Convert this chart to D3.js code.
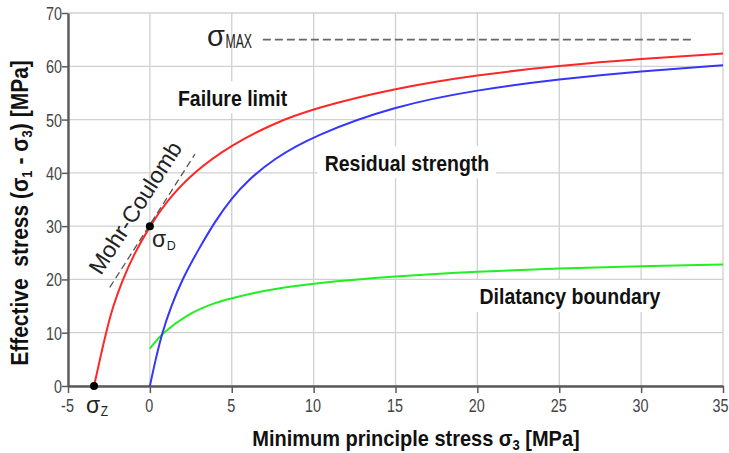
<!DOCTYPE html>
<html><head><meta charset="utf-8">
<script src="https://cdn.jsdelivr.net/npm/d3@7"></script>
<style>body{margin:0;background:#fff}svg{display:block}</style>
</head><body><svg id="c" width="729" height="453"></svg>
<script>
const xTicks = [-5,0,5,10,15,20,25,30,35];
const yTicks = [0,10,20,30,40,50,60,70];
const failureLimit = [[-3.41,0],[-3.05,5],[-2.68,10],[-2.25,15],[-1.72,19.5],[-1,24.6],[0,30],[1,34.6],[2.6,40],[5,45.3],[7.5,49.2],[10,52.1],[15,55.9],[20,58.4],[25,60.1],[30,61.4],[35,62.4]];
const residualStrength = [[0,0],[0.35,5],[0.75,10],[1.3,15],[2,20.2],[3,25.8],[4,31],[5,35.3],[6,38.6],[7.5,42.5],[10,47],[15,52.6],[20,55.6],[25,57.6],[30,59.1],[35,60.2]];
const dilatancyBoundary = [[0,7],[0.7,9.8],[2.25,13.4],[3.9,15.6],[5.5,16.9],[7.5,18.2],[10,19.3],[15,20.6],[20,21.5],[25,22.1],[30,22.5],[35,22.8]];
const mohrCoulomb = [[-2.45,18.5],[2.75,43.5]];
const sigmaMax = [[6.9,65],[33.1,65]];
const points = [[-3.41,0],[0,30]];

const svg = d3.select("#c");
const L=68,R=723,T=13,B=386;
const x = d3.scaleLinear().domain([-5,35]).range([L,R]);
const y = d3.scaleLinear().domain([0,70]).range([B,T]);
const sans = "'Liberation Sans',Arial,sans-serif";

// grid
svg.append("g").selectAll("line").data(xTicks).join("line")
  .attr("x1",d=>x(d)).attr("x2",d=>x(d)).attr("y1",T).attr("y2",B)
  .attr("stroke","#d0d0d0").attr("stroke-width",1.3);
svg.append("g").selectAll("line").data(yTicks).join("line")
  .attr("x1",L).attr("x2",R).attr("y1",d=>y(d)).attr("y2",d=>y(d))
  .attr("stroke","#d0d0d0").attr("stroke-width",1.3);

// axes
const fmt = d=>String(d);
const xa = svg.append("g").attr("transform",`translate(0,${B})`)
  .call(d3.axisBottom(x).tickValues(xTicks).tickFormat(fmt).tickSize(7).tickSizeOuter(0));
const ya = svg.append("g").attr("transform",`translate(${L},0)`)
  .call(d3.axisLeft(y).tickValues(yTicks).tickFormat(fmt).tickSize(6).tickSizeOuter(0));
[xa,ya].forEach(a=>{
  a.select(".domain").attr("stroke","#5a5a5a").attr("stroke-width",2.4);
  a.selectAll(".tick line").attr("stroke","#5a5a5a").attr("stroke-width",1.5);
  a.selectAll(".tick text").attr("fill","#444").style("font-family",sans).style("font-size","18px");
});
xa.selectAll(".tick text").attr("y",0).attr("dy",null)
  .attr("transform",d=>`translate(${d===35?-3:-1},26) scale(0.8,1)`);
ya.selectAll(".tick text").attr("x",0).attr("dy","0.36em").attr("transform","translate(-6,0) scale(0.8,1)");

// bold text label with white background
function boxLabel(cx,by,txt){
  const g = svg.append("g").attr("transform",`translate(${cx},${by}) scale(1,1.12)`);
  const t = g.append("text").attr("x",0).attr("y",0).attr("text-anchor","middle")
    .style("font-family",sans).style("font-weight","bold").style("font-size","19.5px").attr("fill","#111").text(txt);
  const bb = t.node().getBBox();
  g.insert("rect","text").attr("x",bb.x-7).attr("y",bb.y-4).attr("width",bb.width+14).attr("height",bb.height+7).attr("fill","#fff");
}
boxLabel(x(5.05),y(52.6),"Failure limit");
boxLabel(x(15.7),y(40.4),"Residual strength");
boxLabel(x(25.65),y(15.3),"Dilatancy boundary");

const line = d3.line().x(d=>x(d[0])).y(d=>y(d[1])).curve(d3.curveBasis);
svg.append("path").datum(dilatancyBoundary).attr("d",line).attr("fill","none").attr("stroke","#22ee22").attr("stroke-width",2);
svg.append("path").datum(residualStrength).attr("d",line).attr("fill","none").attr("stroke","#3535ff").attr("stroke-width",2);
svg.append("path").datum(failureLimit).attr("d",line).attr("fill","none").attr("stroke","#ff2626").attr("stroke-width",2);

const straight = d3.line().x(d=>x(d[0])).y(d=>y(d[1]));
svg.append("path").datum(mohrCoulomb).attr("d",straight).attr("stroke","#555").attr("stroke-width",1.3).attr("stroke-dasharray","7,4").attr("fill","none");
svg.append("path").datum(sigmaMax).attr("d",straight).attr("stroke","#666").attr("stroke-width",1.6).attr("stroke-dasharray","8,4").attr("fill","none");

svg.append("g").selectAll("circle").data(points).join("circle")
  .attr("cx",d=>x(d[0])).attr("cy",d=>y(d[1])).attr("r",4).attr("fill","#000");

// Mohr-Coulomb label
const ang = Math.atan2(y(mohrCoulomb[1][1])-y(mohrCoulomb[0][1]), x(mohrCoulomb[1][0])-x(mohrCoulomb[0][0]))*180/Math.PI;
svg.append("text").attr("transform",`translate(142,212) rotate(${ang})`).attr("text-anchor","middle")
  .style("font-family",sans).style("font-size","23px").attr("fill","#222").text("Mohr-Coulomb");

// sigma labels
function sig(tx,ty,size,sub,subSize,subDy,subScale){
  const g = svg.append("g");
  g.append("text").attr("x",tx).attr("y",ty).style("font-family",sans).style("font-size",size+"px").attr("fill","#222").text("σ");
  const w = g.select("text").node().getComputedTextLength();
  g.append("text").attr("transform",`translate(${tx+w+0.5},${ty+subDy}) scale(${subScale},1)`)
    .style("font-family",sans).style("font-size",subSize+"px").attr("fill","#222").text(sub);
}
sig(152,246.5,23,"D",12.5,3.5,1);
sig(86,413,23,"Z",14,3,0.85);
sig(207,45.5,29,"MAX",19.5,2,0.63);

// axis titles
const xt = svg.append("text").attr("transform","translate(416,446) scale(1,1.12)").attr("text-anchor","middle")
  .style("font-family",sans).style("font-weight","bold").style("font-size","20px").attr("fill","#111");
xt.append("tspan").text("Minimum principle stress σ");
xt.append("tspan").style("font-size","13px").attr("dy",4).text("3");
xt.append("tspan").attr("dy",-4).text(" [MPa]");

const yt = svg.append("text").attr("transform","translate(28,213) rotate(-90) scale(1,1.12)").attr("text-anchor","middle")
  .style("font-family",sans).style("font-weight","bold").style("font-size","21px").attr("fill","#111");
yt.append("tspan").text("Effective\u00a0 stress (σ");
yt.append("tspan").style("font-size","13px").attr("dy",4).text("1");
yt.append("tspan").attr("dy",-4).text(" - σ");
yt.append("tspan").style("font-size","13px").attr("dy",4).text("3");
yt.append("tspan").attr("dy",-4).text(") [MPa]");
</script></body></html>
